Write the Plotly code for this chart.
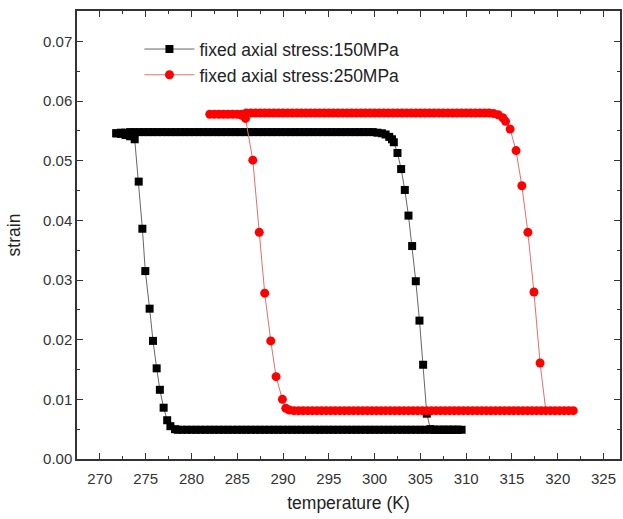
import plotly.graph_objects as go

# ---- 150 MPa (black squares): heating then cooling path ----
b_temp = [
    271.8, 272.3, 272.8, 273.3, 273.8, 274.3, 274.8, 275.3, 275.8, 276.3,
    276.8, 277.3, 277.8, 278.3, 278.8, 279.3, 279.8, 280.3, 280.8, 281.3,
    281.8, 282.3, 282.8, 283.3, 283.8, 284.3, 284.8, 285.3, 285.8, 286.3,
    286.8, 287.3, 287.8, 288.3, 288.8, 289.3, 289.8, 290.3, 290.8, 291.3,
    291.8, 292.3, 292.8, 293.3, 293.8, 294.3, 294.8, 295.3, 295.8, 296.3,
    296.8, 297.3, 297.8, 298.3, 298.8, 299.3, 299.8, 300.3, 300.8, 301.2,
    301.6, 301.9,
    302.1, 302.5, 302.9, 303.3, 303.7, 304.1, 304.5, 304.9, 305.3, 305.7, 306.1,
    306.6, 307.1, 307.6, 308.1, 308.6, 309.1, 309.5,
    309.0, 308.5, 308.0, 307.5, 307.0, 306.5, 306.0, 305.5, 305.0, 304.5,
    304.0, 303.5, 303.0, 302.5, 302.0, 301.5, 301.0, 300.5, 300.0, 299.5,
    299.0, 298.5, 298.0, 297.5, 297.0, 296.5, 296.0, 295.5, 295.0, 294.5,
    294.0, 293.5, 293.0, 292.5, 292.0, 291.5, 291.0, 290.5, 290.0, 289.5,
    289.0, 288.5, 288.0, 287.5, 287.0, 286.5, 286.0, 285.5, 285.0, 284.5,
    284.0, 283.5, 283.0, 282.5, 282.0, 281.5, 281.0, 280.5, 280.0, 279.5,
    279.0, 278.5,
    278.2, 277.7, 277.35, 276.96, 276.55, 276.2, 275.8, 275.43, 274.96, 274.64,
    274.24, 273.8, 273.3, 272.8, 272.3, 271.8,
]
b_strain = [
    0.0546, 0.0547, 0.0547, 0.0548, 0.0548, 0.0548, 0.0548, 0.0548, 0.0548, 0.0548,
    0.0548, 0.0548, 0.0548, 0.0548, 0.0548, 0.0548, 0.0548, 0.0548, 0.0548, 0.0548,
    0.0548, 0.0548, 0.0548, 0.0548, 0.0548, 0.0548, 0.0548, 0.0548, 0.0548, 0.0548,
    0.0548, 0.0548, 0.0548, 0.0548, 0.0548, 0.0548, 0.0548, 0.0548, 0.0548, 0.0548,
    0.0548, 0.0548, 0.0548, 0.0548, 0.0548, 0.0548, 0.0548, 0.0548, 0.0548, 0.0548,
    0.0548, 0.0548, 0.0548, 0.0548, 0.0548, 0.0548, 0.0548, 0.0547, 0.0546, 0.0544,
    0.0540, 0.0536,
    0.0531, 0.0513, 0.0486, 0.0451, 0.0408, 0.0357, 0.0298, 0.0232, 0.0158, 0.0076, 0.0050,
    0.0049, 0.0049, 0.0049, 0.0049, 0.0049, 0.0049, 0.0049,
    0.0049, 0.0049, 0.0049, 0.0049, 0.0049, 0.0049, 0.0049, 0.0049, 0.0049, 0.0049,
    0.0049, 0.0049, 0.0049, 0.0049, 0.0049, 0.0049, 0.0049, 0.0049, 0.0049, 0.0049,
    0.0049, 0.0049, 0.0049, 0.0049, 0.0049, 0.0049, 0.0049, 0.0049, 0.0049, 0.0049,
    0.0049, 0.0049, 0.0049, 0.0049, 0.0049, 0.0049, 0.0049, 0.0049, 0.0049, 0.0049,
    0.0049, 0.0049, 0.0049, 0.0049, 0.0049, 0.0049, 0.0049, 0.0049, 0.0049, 0.0049,
    0.0049, 0.0049, 0.0049, 0.0049, 0.0049, 0.0049, 0.0049, 0.0049, 0.0049, 0.0049,
    0.0049, 0.0049,
    0.0050, 0.0055, 0.0065, 0.0086, 0.0116, 0.0152, 0.0198, 0.0252, 0.0315, 0.0386,
    0.0465, 0.0536, 0.0541, 0.0543, 0.0545, 0.0546,
]

# ---- 250 MPa (red circles): heating then cooling path ----
r_temp = [
    282.0, 282.5, 283.0, 283.5, 284.0, 284.5, 285.0, 285.5, 286.0, 286.5,
    287.0, 287.5, 288.0, 288.5, 289.0, 289.5, 290.0, 290.5, 291.0, 291.5,
    292.0, 292.5, 293.0, 293.5, 294.0, 294.5, 295.0, 295.5, 296.0, 296.5,
    297.0, 297.5, 298.0, 298.5, 299.0, 299.5, 300.0, 300.5, 301.0, 301.5,
    302.0, 302.5, 303.0, 303.5, 304.0, 304.5, 305.0, 305.5, 306.0, 306.5,
    307.0, 307.5, 308.0, 308.5, 309.0, 309.5, 310.0, 310.5, 311.0, 311.5,
    312.0, 312.5, 313.0, 313.5, 314.0, 314.3,
    314.8, 315.45, 316.08, 316.74, 317.4, 318.07, 318.7,
    319.2, 319.7, 320.2, 320.7, 321.2, 321.7,
    318.2, 317.7, 317.2, 316.7, 316.2, 315.7, 315.2, 314.7, 314.2, 313.7,
    313.2, 312.7, 312.2, 311.7, 311.2, 310.7, 310.2, 309.7, 309.2, 308.7,
    308.2, 307.7, 307.2, 306.7, 306.2, 305.7, 305.2, 304.7, 304.2, 303.7,
    303.2, 302.7, 302.2, 301.7, 301.2, 300.7, 300.2, 299.7, 299.2, 298.7,
    298.2, 297.7, 297.2, 296.7, 296.2, 295.7, 295.2, 294.7, 294.2, 293.7,
    293.2, 292.7, 292.2, 291.7, 291.2, 290.7,
    290.3, 289.93, 289.24, 288.66, 288.0, 287.4, 286.7, 285.9, 285.5,
]
r_strain = [
    0.0578, 0.0578, 0.0578, 0.0578, 0.0578, 0.0578, 0.0578, 0.0578, 0.0580, 0.0580,
    0.0580, 0.0580, 0.0580, 0.0580, 0.0580, 0.0580, 0.0580, 0.0580, 0.0580, 0.0580,
    0.0580, 0.0580, 0.0580, 0.0580, 0.0580, 0.0580, 0.0580, 0.0580, 0.0580, 0.0580,
    0.0580, 0.0580, 0.0580, 0.0580, 0.0580, 0.0580, 0.0580, 0.0580, 0.0580, 0.0580,
    0.0580, 0.0580, 0.0580, 0.0580, 0.0580, 0.0580, 0.0580, 0.0580, 0.0580, 0.0580,
    0.0580, 0.0580, 0.0580, 0.0580, 0.0580, 0.0580, 0.0580, 0.0580, 0.0580, 0.0580,
    0.0580, 0.0580, 0.0579, 0.0577, 0.0572, 0.0566,
    0.0553, 0.0517, 0.0458, 0.0380, 0.0280, 0.0161, 0.0081,
    0.0081, 0.0081, 0.0081, 0.0081, 0.0081, 0.0081,
    0.0081, 0.0081, 0.0081, 0.0081, 0.0081, 0.0081, 0.0081, 0.0081, 0.0081, 0.0081,
    0.0081, 0.0081, 0.0081, 0.0081, 0.0081, 0.0081, 0.0081, 0.0081, 0.0081, 0.0081,
    0.0081, 0.0081, 0.0081, 0.0081, 0.0081, 0.0081, 0.0081, 0.0081, 0.0081, 0.0081,
    0.0081, 0.0081, 0.0081, 0.0081, 0.0081, 0.0081, 0.0081, 0.0081, 0.0081, 0.0081,
    0.0081, 0.0081, 0.0081, 0.0081, 0.0081, 0.0081, 0.0081, 0.0081, 0.0081, 0.0081,
    0.0081, 0.0081, 0.0081, 0.0081, 0.0081, 0.0082,
    0.0085, 0.0100, 0.0138, 0.0198, 0.0278, 0.0380, 0.0501, 0.0571, 0.0576,
]

series_names = ["fixed axial stress:150MPa", "fixed axial stress:250MPa"]
x_ticks = [270, 275, 280, 285, 290, 295, 300, 305, 310, 315, 320, 325]
y_ticks = [0.00, 0.01, 0.02, 0.03, 0.04, 0.05, 0.06, 0.07]

FONT = "Liberation Sans, Arial, sans-serif"

fig = go.Figure()
fig.add_trace(go.Scatter(
    x=b_temp, y=b_strain, mode="lines+markers", name=series_names[0],
    line=dict(color="#666666", width=1),
    marker=dict(symbol="square", size=8, color="#000000"),
))
fig.add_trace(go.Scatter(
    x=r_temp, y=r_strain, mode="lines+markers", name=series_names[1],
    line=dict(color="#e07070", width=1),
    marker=dict(symbol="circle", size=9, color="#ff0000"),
))

axis_common = dict(
    showline=True, linecolor="#333333", linewidth=1.5, mirror="allticks",
    ticks="inside", ticklen=6, tickcolor="#333333", tickwidth=1.3,
    showgrid=False, zeroline=False,
    tickfont=dict(family=FONT, size=15, color="#333333"),
)

fig.update_layout(
    width=623, height=519,
    margin=dict(l=77, r=1, t=11, b=60),
    paper_bgcolor="white", plot_bgcolor="white",
    font=dict(family=FONT, color="#222222"),
    xaxis=dict(
        range=[267.5, 326.8], tickvals=x_ticks, ticklabelstandoff=5,
        minor=dict(ticks="inside", ticklen=3, dtick=2.5, tick0=267.5, tickcolor="#333333"),
        title=dict(text="temperature (K)", font=dict(family=FONT, size=17.5, color="#222222"), standoff=11),
        **axis_common,
    ),
    yaxis=dict(
        range=[0, 0.0751], tickvals=y_ticks, tickformat=".2f",
        minor=dict(ticks="inside", ticklen=3, dtick=0.005, tick0=0, tickcolor="#333333"),
        title=dict(text="strain", font=dict(family=FONT, size=17.5, color="#222222"), standoff=18),
        **axis_common,
    ),
    legend=dict(
        x=0.115, y=0.955, xanchor="left", yanchor="top",
        bgcolor="rgba(0,0,0,0)", borderwidth=0, itemwidth=50,
        font=dict(family=FONT, size=17.5, color="#222222"),
    ),
    showlegend=True,
)

fig.write_html("out.html")
